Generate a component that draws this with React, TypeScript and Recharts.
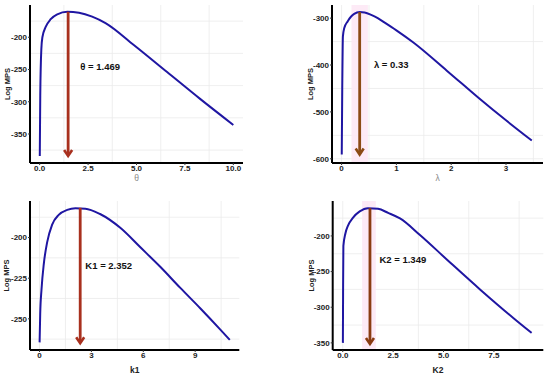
import React from 'react';
import {
  LineChart, Line, XAxis, YAxis, CartesianGrid,
  ReferenceLine, ReferenceArea, ReferenceDot
} from 'recharts';

// profile curves
const theta = [0.005, 0.03, 0.086, 0.14, 0.31, 0.57, 0.91, 1.43, 2.03, 2.71, 3.4, 4.86, 6.58, 8.3, 10];
const thetaLogMps = [-384, -290, -218, -200, -184, -172, -164.5, -160.5, -162, -168, -178, -212, -254, -296, -336];

const lambda = [0.003, 0.012, 0.024, 0.049, 0.11, 0.17, 0.23, 0.33, 0.42, 0.54, 0.66, 0.78, 1.0, 1.31, 1.92, 2.2, 2.53, 3.0, 3.47];
const lambdaLogMps = [-591, -450, -339, -321, -307, -297, -291, -287, -288, -293, -300, -309, -326, -352, -412, -440, -473, -518, -561];

const k1 = [0.005, 0.04, 0.115, 0.25, 0.44, 0.73, 1.11, 1.6, 2.08, 2.65, 3.5, 4.67, 5.83, 6.98, 8.14, 9.29, 10.44, 11.0];
const k1LogMps = [-264.5, -247, -232, -216, -203, -192, -186, -183, -182, -182.2, -185.5, -194, -206, -218, -231, -243.5, -256.5, -263];

const k2 = [0.005, 0.015, 0.03, 0.13, 0.26, 0.51, 0.84, 1.25, 1.75, 2.25, 2.84, 3.83, 5.16, 6.81, 8.46, 9.37];
const k2LogMps = [-350, -280, -214, -196.5, -185.5, -174.3, -165.6, -161, -162, -167.7, -175.5, -198.7, -233, -275, -315, -336];

// estimates marked by the arrows
const estimates = [1.469, 0.33, 2.352, 1.349];
const estLabels = ['θ = 1.469', 'λ = 0.33', 'K1 = 2.352', 'K2 = 1.349'];

const FONT = '"Liberation Sans", Arial, sans-serif';
const LINE = '#1f16a2';

const arrowShape = (color: string) => (props: any) => {
  const { x1, y1, x2, y2 } = props;
  return (
    <g>
      <line x1={x1} y1={y1} x2={x2} y2={y2 - 1} stroke={color} strokeWidth={2.8} />
      <polyline
        points={`${x2 - 4},${y2 - 6} ${x2},${y2} ${x2 + 4},${y2 - 6}`}
        fill="none" stroke={color} strokeWidth={2.6}
      />
    </g>
  );
};

const labelShape = (text: string) => (props: any) => (
  <text x={props.cx} y={props.cy} dy="0.35em" fontFamily={FONT} fontWeight="bold" fontSize={9.5} fill="#111">
    {text}
  </text>
);

interface PanelProps {
  left: number; top: number; width: number; height: number;
  mt: number; mr: number; yw: number; xh: number; xTitleOffset: number;
  xs: number[]; ys: number[];
  xDomain: [number, number]; yDomain: [number, number];
  xTicks: number[]; yTicks: number[]; xMinor: number[]; yMinor: number[];
  xFmt: (v: number) => string;
  xTitle: string; xTitleBold: boolean; yTitleX: number;
  est: number; peak: number; low: number; label: string; labelAt: [number, number];
  arrow: string; band?: [number, number];
}

function Panel(p: PanelProps) {
  const data = p.xs.map((x, i) => ({ x, y: p.ys[i] }));
  const tick = { fontFamily: FONT, fontSize: 8, fontWeight: 'bold', fill: '#222' };
  return (
    <div style={{ position: 'absolute', left: p.left, top: p.top }}>
      <LineChart width={p.width} height={p.height} data={data}
        margin={{ top: p.mt, right: p.mr, left: 0, bottom: 0 }}>
        <CartesianGrid stroke="#ebebeb" strokeWidth={0.8}
          verticalValues={[...p.xTicks, ...p.xMinor]}
          horizontalValues={[...p.yTicks, ...p.yMinor]} />
        {p.band && (
          <ReferenceArea x1={p.band[0]} x2={p.band[1]} fill="#fde8f5" fillOpacity={0.9} stroke="none" />
        )}
        <XAxis type="number" dataKey="x" domain={p.xDomain} ticks={p.xTicks} allowDataOverflow
          tickFormatter={p.xFmt} height={p.xh} tickSize={2} tickMargin={0} tick={tick}
          axisLine={{ stroke: '#000', strokeWidth: 2 }} tickLine={{ stroke: '#333' }}
          label={{
            value: p.xTitle, position: 'insideBottom', offset: p.xTitleOffset,
            style: {
              fontFamily: FONT, fontSize: 8.5, fontWeight: p.xTitleBold ? 'bold' : 'normal',
              fill: p.xTitleBold ? '#222' : '#888'
            }
          }} />
        <YAxis type="number" domain={p.yDomain} ticks={p.yTicks} allowDataOverflow
          width={p.yw} tickSize={2} tickMargin={1} tick={tick}
          axisLine={{ stroke: '#000', strokeWidth: 2 }} tickLine={{ stroke: '#333' }}
          label={{
            content: (lp: any) => {
              const vb = lp.viewBox;
              const cx = vb.x + p.yTitleX;
              const cy = vb.y + vb.height / 2;
              return (
                <text x={cx} y={cy} transform={`rotate(-90, ${cx}, ${cy})`} textAnchor="middle"
                  dy="0.35em" fontFamily={FONT} fontSize={7.5} fontWeight="bold" fill="#222">
                  Log MPS
                </text>
              );
            }
          }} />
        <Line type="monotone" dataKey="y" stroke={LINE} strokeWidth={2} dot={false} isAnimationActive={false} />
        <ReferenceLine segment={[{ x: p.est, y: p.peak }, { x: p.est, y: p.low }]}
          shape={arrowShape(p.arrow)} />
        <ReferenceDot x={p.labelAt[0]} y={p.labelAt[1]} r={0} shape={labelShape(p.label)} />
      </LineChart>
    </div>
  );
}

export default function App() {
  return (
    <div style={{ position: 'absolute', left: 0, top: 0, width: 550, height: 379, background: '#fff' }}>
      <Panel left={0} top={0} width={250} height={190} mt={5} mr={7} yw={30} xh={27} xTitleOffset={9}
        xs={theta} ys={thetaLogMps}
        xDomain={[-0.5, 10.5]} yDomain={[-395, -150]}
        xTicks={[0, 2.5, 5, 7.5, 10]} yTicks={[-350, -300, -250, -200]}
        xMinor={[1.25, 3.75, 6.25, 8.75]} yMinor={[-375, -325, -275, -225, -175]}
        xFmt={(v) => v.toFixed(1)} xTitle="θ" xTitleBold={false} yTitleX={7}
        est={estimates[0]} peak={-160.5} low={-384} label={estLabels[0]} labelAt={[2.1, -246]}
        arrow="#a8301e" />
      <Panel left={297} top={0} width={250} height={190} mt={5} mr={4} yw={35} xh={27} xTitleOffset={9}
        xs={lambda} ys={lambdaLogMps}
        xDomain={[-0.175, 3.675]} yDomain={[-609, -272]}
        xTicks={[0, 1, 2, 3]} yTicks={[-600, -500, -400, -300]}
        xMinor={[0.5, 1.5, 2.5, 3.5]} yMinor={[-550, -450, -350]}
        xFmt={(v) => String(v)} xTitle="λ" xTitleBold={false} yTitleX={13}
        est={estimates[1]} peak={-287} low={-591} label={estLabels[1]} labelAt={[0.59, -400]}
        arrow="#8b4a14" band={[0.18, 0.48]} />
      <Panel left={0} top={190} width={250} height={189} mt={11} mr={10.7} yw={30} xh={29} xTitleOffset={6}
        xs={k1} ys={k1LogMps}
        xDomain={[-0.55, 11.55]} yDomain={[-269.2, -177.5]}
        xTicks={[0, 3, 6, 9]} yTicks={[-250, -225, -200]}
        xMinor={[1.5, 4.5, 7.5, 10.5]} yMinor={[-262.5, -237.5, -212.5, -187.5]}
        xFmt={(v) => String(v)} xTitle="k1" xTitleBold={true} yTitleX={6}
        est={estimates[2]} peak={-181.7} low={-265} label={estLabels[2]} labelAt={[2.65, -217]}
        arrow="#a8301e" />
      <Panel left={297} top={190} width={250} height={189} mt={11} mr={3.7} yw={35.7} xh={29} xTitleOffset={6}
        xs={k2} ys={k2LogMps}
        xDomain={[-0.5, 9.95]} yDomain={[-360, -151]}
        xTicks={[0, 2.5, 5, 7.5]} yTicks={[-350, -300, -250, -200]}
        xMinor={[1.25, 3.75, 6.25, 8.75]} yMinor={[-325, -275, -225, -175]}
        xFmt={(v) => v.toFixed(1)} xTitle="K2" xTitleBold={true} yTitleX={14}
        est={estimates[3]} peak={-161} low={-351.5} label={estLabels[3]} labelAt={[1.82, -234]}
        arrow="#8a3c12" band={[0.96, 1.64]} />
    </div>
  );
}
